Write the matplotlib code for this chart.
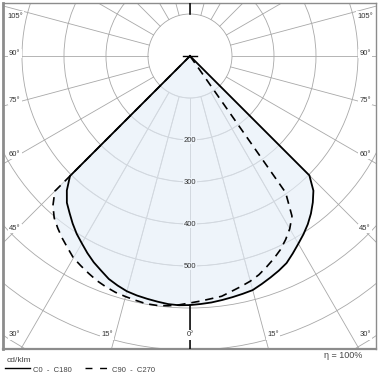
import numpy as np
import matplotlib
matplotlib.use("Agg")
import matplotlib.pyplot as plt
from matplotlib.patches import Circle, Polygon
from matplotlib.lines import Line2D

# ---------------- data (cd/klm), gamma in degrees ----------------
gamma = [0, 2.5, 5, 7.5, 10, 12.5, 15, 17.5, 20, 22.5, 25, 27.5, 30, 32.5,
         35, 37.5, 40, 42.5, 45, 47.5, 50, 60, 70, 80, 90]
c0   = [593, 591, 589, 586, 583, 580, 577, 569, 561, 553, 544, 530, 516, 503,
        489, 473, 455, 435, 402, 0, 0, 0, 0, 0, 0]
c180 = [593, 594, 593, 590, 587, 584, 580, 573, 565, 553, 542, 529, 515, 502,
        487, 471, 456, 434, 404, 0, 0, 0, 0, 0, 0]
c90  = [588, 584, 580, 577, 569, 562, 555, 546, 534, 522, 509, 493, 475, 452,
        397, 0, 0, 0, 0, 0, 0, 0, 0, 0, 0]
c270 = [588, 593, 597, 599, 599, 596, 593, 590, 585, 579, 571, 563, 555, 542,
        530, 517, 503, 483, 455, 0, 0, 0, 0, 0, 0]

ring_values = [100, 200, 300, 400, 500, 600, 700, 800]
ring_labels = [200, 300, 400, 500]
angle_ticks = [0, 15, 30, 45, 60, 75, 90, 105]
legend_unit = "cd/klm"
legend_names = ["C0  -  C180", "C90  -  C270"]
efficiency = "η = 100%"

plt.rcParams['font.family'] = ['Liberation Sans', 'DejaVu Sans']

W = H = 380
fig = plt.figure(figsize=(W / 100, H / 100), dpi=100)
fig.patch.set_facecolor("white")
ax = fig.add_axes([3 / W, 31 / H, 373 / W, 346 / H])
ax.set_xlim(-445.2, 442.9)
ax.set_ylim(-697.6, 126.2)
ax.set_xticks([])
ax.set_yticks([])
for side, sp in ax.spines.items():
    sp.set_color("#8c8c8c")
    sp.set_linewidth(1.0)
ax.spines["left"].set_linewidth(2.0)
ax.spines["bottom"].set_linewidth(1.6)

GRID = "#a8a8a8"
GRID_IN = "#d2d8df"
FILL = "#eef4fa"
R0 = ring_values[0]
RMAX = 1200


def grid(color, zorder, clip=None):
    arts = []
    for r in ring_values:
        c = Circle((0, 0), r, fill=False, edgecolor=color, lw=0.6, zorder=zorder)
        ax.add_patch(c)
        arts.append(c)
    for a in range(0, 360, 15):
        t = np.radians(a)
        ln, = ax.plot([R0 * np.sin(t), RMAX * np.sin(t)],
                      [-R0 * np.cos(t), -RMAX * np.cos(t)],
                      color=color, lw=0.6, zorder=zorder)
        arts.append(ln)
    if clip is not None:
        for a_ in arts:
            a_.set_clip_path(clip)


def curve(right, left):
    g = np.radians(gamma)
    r = np.asarray(right, float)
    l = np.asarray(left, float)
    xs = np.concatenate([(r * np.sin(g))[::-1], -l * np.sin(g)])
    ys = np.concatenate([(-r * np.cos(g))[::-1], -l * np.cos(g)])
    return xs, ys


grid(GRID, 1)

xs_s, ys_s = curve(c0, c180)
xs_d, ys_d = curve(c90, c270)
polys = []
for xs, ys in [(xs_s, ys_s), (xs_d, ys_d)]:
    p = Polygon(np.column_stack([xs, ys]), closed=True, facecolor=FILL,
                edgecolor="none", zorder=2)
    ax.add_patch(p)
    polys.append(p)
for p in polys:
    grid(GRID_IN, 3, clip=p)

# black vertical axis outside the light distribution
ax.plot([0, 0], [-c0[0], -RMAX], color="black", lw=1.1, zorder=4)
ax.plot([0, 0], [R0, RMAX], color="black", lw=1.1, zorder=4)

ax.plot(xs_s, ys_s, color="black", lw=1.3, zorder=5, solid_joinstyle="round")
ax.plot(xs_d, ys_d, color="black", lw=1.2, dashes=(5, 3.5), zorder=5)
# luminaire mark
ax.plot([-17, 17], [0, 0], color="black", lw=1.0, zorder=6)

for v in ring_labels:
    ax.text(0, -v, str(v), ha="center", va="center", fontsize=5.5,
            color="#333333", zorder=6,
            bbox=dict(boxstyle="square,pad=0.1", fc=FILL, ec="none"))

XCOL = 417
YBOT = -664
YTOP = 95
for a in angle_ticks:
    t = np.radians(a)
    for s in ([1] if a == 0 else [-1, 1]):
        if a <= 15:
            y = YBOT
            x = s * (-YBOT * np.tan(t) + (20 if a > 0 else 0))
        else:
            x = s * XCOL
            y = np.clip(-XCOL * np.cos(t) / np.sin(t) + 6, YBOT, YTOP)
        ax.text(x, y, f"{a}°", ha="center", va="center", fontsize=5.5,
                color="#333333", zorder=7,
                bbox=dict(boxstyle="square,pad=0.15", fc="white", ec="none"))

# legend / footer
fig.text(7 / W, 1 - 361 / H, legend_unit, fontsize=6, color="#444444",
         ha="left", va="center")
fig.add_artist(Line2D([5 / W, 30 / W], [1 - 368 / H, 1 - 368 / H],
                      color="black", lw=1.0))
fig.text(33 / W, 1 - 370.5 / H, legend_names[0], fontsize=5.5,
         color="#444444", ha="left", va="center")
fig.add_artist(Line2D([85 / W, 108 / W], [1 - 368 / H, 1 - 368 / H],
                      color="black", lw=1.0, dashes=(5, 5.5)))
fig.text(112 / W, 1 - 370.5 / H, legend_names[1], fontsize=5.5,
         color="#444444", ha="left", va="center")
fig.text(362 / W, 1 - 356 / H, efficiency, fontsize=6.5, color="#444444",
         ha="right", va="center")

fig.savefig("out.png", dpi=100, facecolor="white")
